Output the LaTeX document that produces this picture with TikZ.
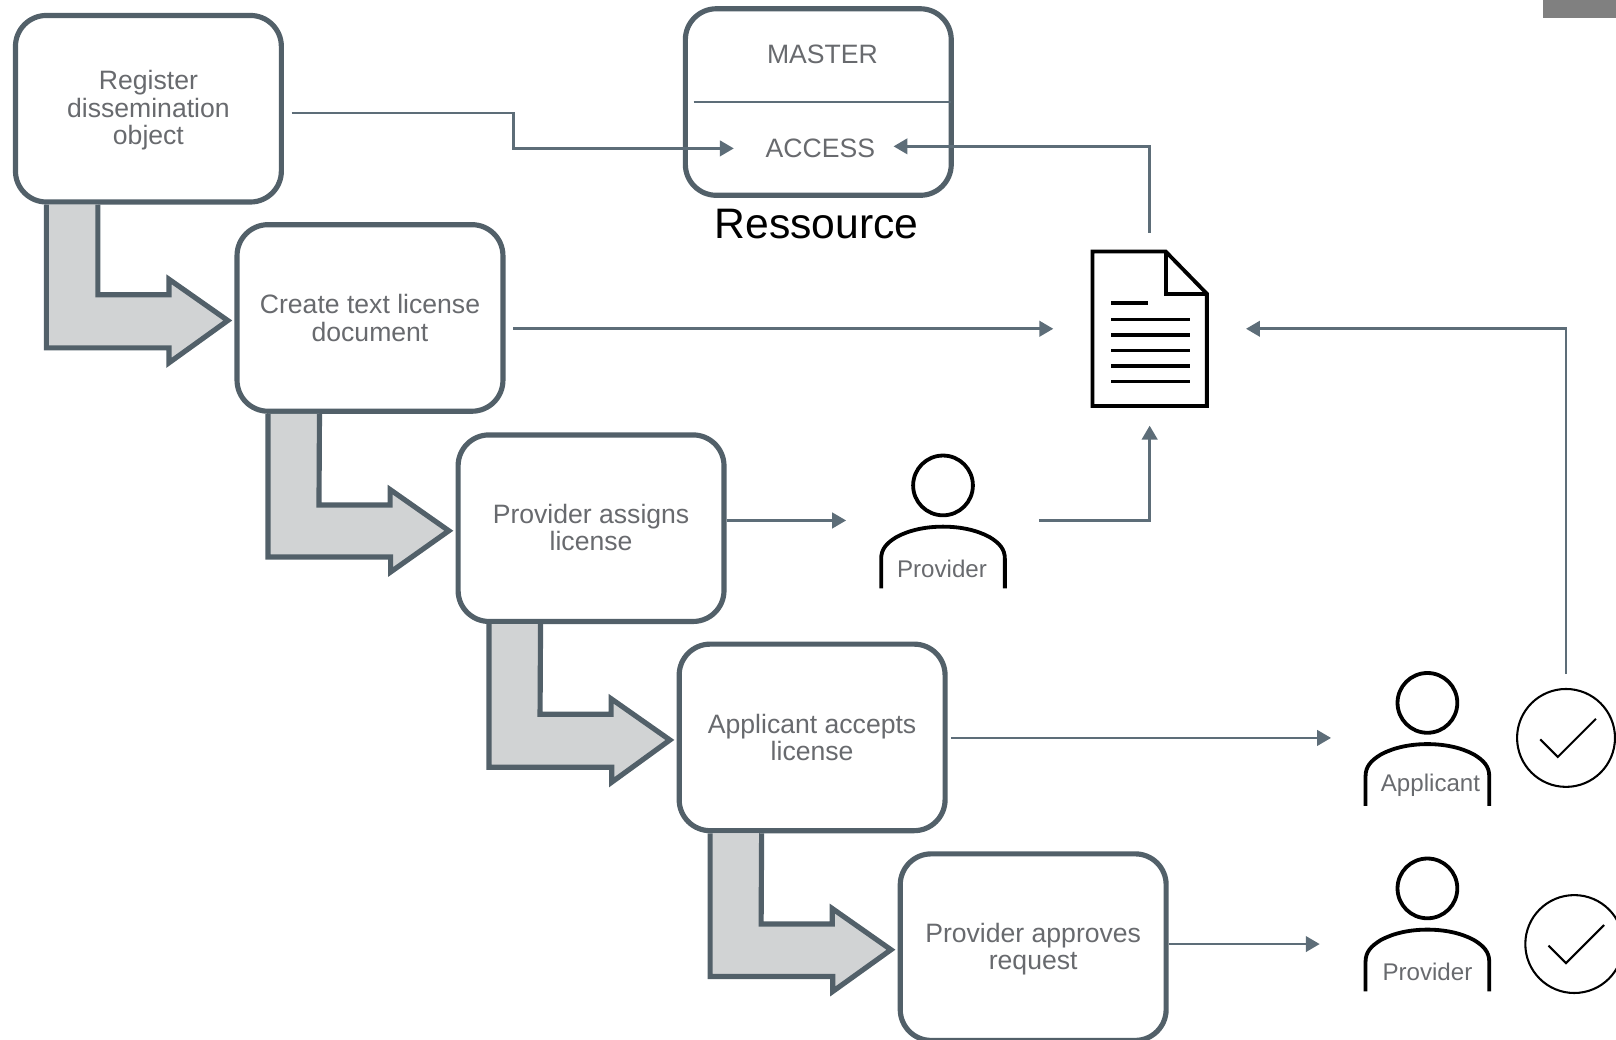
\documentclass[tikz,border=0pt]{standalone}
\usepackage{fontspec}
\setmainfont{Liberation Sans}
\usetikzlibrary{arrows.meta,calc}
\definecolor{boxline}{HTML}{526069}
\definecolor{connline}{HTML}{5D6D78}
\definecolor{bigfill}{HTML}{D1D3D4}
\definecolor{labeltext}{HTML}{686A6E}
\tikzset{
  x=1pt,y=-1pt,
  stepbox/.style={draw=boxline,line width=5pt,fill=white,rounded corners=30pt,minimum width=258pt,minimum height=181pt,inner sep=0pt,outer sep=0pt},
  steptext/.style={align=center,text=labeltext,inner sep=0pt,font=\fontsize{25.8}{26.4}\selectfont},
  bigarrow/.style={draw=boxline,line width=5pt,fill=bigfill,miter limit=10},
  conn/.style={draw=connline,line width=2.6pt},
  connarrow/.style={conn,-{Triangle[length=13.5pt,width=15pt]}},
  plainlabel/.style={text=labeltext,inner sep=0pt,font=\fontsize{25.8}{26.4}\selectfont},
  personlabel/.style={text=labeltext,inner sep=0pt,font=\fontsize{23.4}{26}\selectfont},
  icon/.style={draw=black,line width=3.7pt},
  head/.style={icon,circle,minimum size=58pt,inner sep=0pt},
  okcircle/.style={circle,draw=black,line width=2pt,minimum size=95pt,inner sep=0pt},
  okmark/.style={draw=black,line width=2pt}
}
\newcommand{\stepflow}[2]{%
  \draw[bigarrow] ([xshift=-99pt,yshift=-2.5pt]#1.south) -- ++(0,139) -- ++(119,0) -- ++(0,14.5)
    -- ([xshift=-9pt,yshift=-2.5pt]#2.west) -- ++(-57,-40) -- ++(0,15) -- ++(-69,0) -- ([xshift=-49pt,yshift=-2.5pt]#1.south);}
\newcommand{\person}[3]{%
  \node[head] (#1) at (#2,#3) {};
  \begin{scope}[shift={(#2,#3)}]
    \draw[icon,line cap=butt] (-60,100) -- (-60,71) .. controls (-60,62) and (-55,56) .. (-45,50)
      .. controls (-32,43) and (-16,40) .. (0,40) .. controls (16,40) and (32,43) .. (45,50)
      .. controls (55,56) and (60,62) .. (60,71) -- (60,100);
  \end{scope}}
\begin{document}
\begin{tikzpicture}
\useasboundingbox (0,0) rectangle (1568,1009);
\begin{scope}
\clip (0,0) rectangle (1568,1009);
\fill[fill=black!50] (1497,0) rectangle (1568,17);

% step boxes
\node[stepbox,label={[steptext,yshift=-1.5pt]center:{Register\\dissemination\\object}}] (b1) at (144,105.5) {};
\node[stepbox,label={[steptext]center:{Create text license\\document}}] (b2) at (359,308.5) {};
\node[stepbox,label={[steptext,yshift=1pt]center:{Provider assigns\\license}}] (b3) at (573.5,512.5) {};
\node[stepbox,label={[steptext]center:{Applicant accepts\\license}}] (b4) at (788,715.5) {};
\node[stepbox,label={[steptext,yshift=-2pt]center:{Provider approves\\request}}] (b5) at (1002.5,919) {};

% big elbow arrows
\stepflow{b1}{b2}
\stepflow{b2}{b3}
\stepflow{b3}{b4}
\stepflow{b4}{b5}

% resource box
\node[stepbox] (res) at (794,99) {};
\coordinate (resleft) at (673,99);
\draw[conn,line width=2pt] (resleft) -- (res.east);
\node[plainlabel] (master) at (798,52.5) {MASTER};
\node[plainlabel] (access) at (796,143.5) {ACCESS};
\node[inner sep=0pt,font=\fontsize{41.4}{44}\selectfont] (ressource) at (792.5,217.5) {Ressource};

% document icon
\draw[icon,line join=miter,miter limit=10] (1060,244) -- (1131,244) -- (1171,285) -- (1171,394) -- (1060,394) -- cycle;
\draw[icon,line join=miter] (1131,244) -- (1131,285) -- (1171,285);
\foreach \yy/\xe in {294/1114,310/1155,325/1155,340/1155,355/1155,370/1155}
  \draw[draw=black,line width=3.3pt] (1078,\yy) -- (\xe,\yy);

% people
\person{prov}{915}{471}
\node[personlabel] (provlabel) at (914,552) {Provider};
\person{appl}{1385}{682}
\node[personlabel] (appllabel) at (1388,761.5) {Applicant};
\person{provb}{1385}{862}
\node[personlabel] (provblabel) at (1385,943) {Provider};

% check marks
\node[okcircle] (ok1) at (1519.5,716) {};
\draw[okmark] ([shift={(-25,1.5)}]ok1.center) -- ++(17,17) -- ++(37,-37);
\node[okcircle] (ok2) at (1527.5,916) {};
\draw[okmark] ([shift={(-25,1.5)}]ok2.center) -- ++(17,17) -- ++(37,-37);

% connectors
\coordinate (c1s) at (283,109.5);
\coordinate (c1e) at (712,144);
\coordinate (c1m) at (498,109.5);
\draw[connarrow] (c1s) -- (c1m) -- (c1m |- c1e) -- (c1e);

\coordinate (c2s) at (1115.5,226);
\coordinate (c2e) at (867,142);
\draw[connarrow] (c2s) -- (c2s |- c2e) -- (c2e);

\coordinate (c3s) at (498,319);
\coordinate (c3e) at (1022,319);
\draw[connarrow] (c3s) -- (c3e);

\coordinate (c4s) at (705,505);
\coordinate (c4e) at (821,505);
\draw[connarrow] (c4s) -- (c4e);

\coordinate (c5s) at (1008,505);
\coordinate (c5e) at (1115.5,413);
\draw[connarrow] (c5s) -- (c5e |- c5s) -- (c5e);

\coordinate (c6s) at (1519.5,654);
\coordinate (c6e) at (1209,319);
\draw[connarrow] (c6s) -- (c6s |- c6e) -- (c6e);

\coordinate (c7s) at (923,716);
\coordinate (c7e) at (1291.5,716);
\draw[connarrow] (c7s) -- (c7e);

\coordinate (c8s) at (1134,916);
\coordinate (c8e) at (1280.5,916);
\draw[connarrow] (c8s) -- (c8e);
\end{scope}
\end{tikzpicture}
\end{document}
